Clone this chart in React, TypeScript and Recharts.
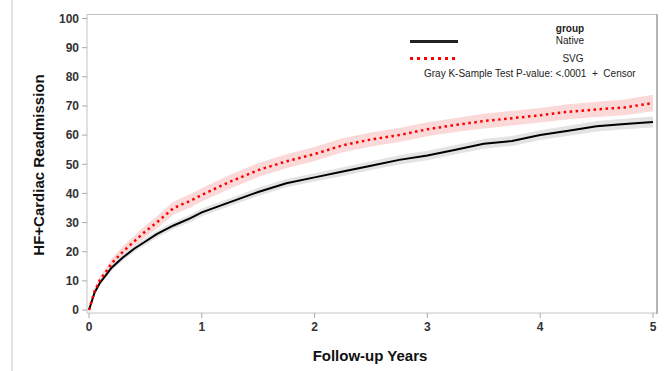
import React from "react";
import {
  ComposedChart,
  Area,
  Line,
  XAxis,
  YAxis,
} from "recharts";

// follow-up time (years)
const years = [0, 0.05, 0.1, 0.15, 0.2, 0.3, 0.4, 0.5, 0.6, 0.75, 0.9, 1, 1.25, 1.5, 1.75, 2, 2.25, 2.5, 2.75, 3, 3.25, 3.5, 3.75, 4, 4.25, 4.5, 4.75, 5];

const native = [0, 6, 9.5, 12, 14.5, 18, 21, 23.5, 26, 29, 31.5, 33.5, 37, 40.5, 43.5, 45.5, 47.5, 49.5, 51.5, 53, 55, 57, 58, 60, 61.5, 63, 63.8, 64.5];
const nativeLo = [0, 5.3, 8.7, 11.1, 13.5, 17, 19.9, 22.4, 24.8, 27.8, 30.2, 32.2, 35.7, 39.1, 42.1, 44.1, 46, 48, 49.9, 51.4, 53.4, 55.3, 56.3, 58.3, 59.8, 61.2, 62, 62.6];
const nativeHi = [0, 6.7, 10.3, 12.9, 15.5, 19, 22.1, 24.6, 27.2, 30.2, 32.8, 34.8, 38.3, 41.9, 44.9, 46.9, 49, 51, 53.1, 54.6, 56.6, 58.7, 59.7, 61.7, 63.2, 64.8, 65.6, 66.4];

const svg = [0, 6.5, 10.5, 13, 16, 20, 23.5, 27, 30, 35, 37.5, 39.5, 44, 48, 51, 53.5, 56.5, 58.5, 60, 62, 63.5, 64.8, 65.8, 66.8, 68, 68.8, 69.5, 71];
const svgLo = [0, 5.5, 9.2, 11.6, 14.4, 18.2, 21.6, 25, 27.9, 32.8, 35.2, 37.2, 41.6, 45.6, 48.6, 51.1, 54.1, 56.1, 57.6, 59.6, 61.1, 62.3, 63.3, 64.3, 65.4, 66.2, 66.8, 68.2];
const svgHi = [0, 7.5, 11.8, 14.4, 17.6, 21.8, 25.4, 29, 32.1, 37.2, 39.8, 41.8, 46.4, 50.4, 53.4, 55.9, 58.9, 60.9, 62.4, 64.4, 65.9, 67.3, 68.3, 69.3, 70.6, 71.4, 72.2, 73.8];

const xTicks = [0, 1, 2, 3, 4, 5];
const yTicks = [0, 10, 20, 30, 40, 50, 60, 70, 80, 90, 100];

const data = years.map((t, i) => ({
  t,
  native: native[i],
  nativeBand: [nativeLo[i], nativeHi[i]],
  svg: svg[i],
  svgBand: [svgLo[i], svgHi[i]],
}));

const FONT = "'Liberation Sans', Arial, sans-serif";
const tickStyle = { fill: "#333", fontSize: 12, fontWeight: "bold", fontFamily: FONT };

const abs = (style: React.CSSProperties): React.CSSProperties => ({
  position: "absolute",
  fontFamily: FONT,
  color: "#222",
  whiteSpace: "nowrap",
  ...style,
});

const bar = (left: number, top: number, width: number, height: number, color: string) => (
  <div style={{ position: "absolute", left, top, width, height, background: color }} />
);

export default function App() {
  return (
    <div style={{ position: "absolute", left: 0, top: 0, width: 672, height: 371, background: "#fff" }}>
      <ComposedChart
        width={672}
        height={371}
        data={data}
        margin={{ top: 14, right: 14, bottom: 28, left: 0 }}
      >
        <XAxis
          dataKey="t"
          type="number"
          domain={[0, 5]}
          ticks={xTicks}
          padding={{ left: 2, right: 5 }}
          height={30}
          stroke="#c4c4c4"
          tickLine={{ stroke: "#aaa" }}
          tickSize={5}
          tickMargin={4}
          tick={tickStyle}
        />
        <YAxis
          type="number"
          domain={[0, 100]}
          ticks={yTicks}
          padding={{ top: 4.5, bottom: 3 }}
          width={87}
          stroke="#c4c4c4"
          tickLine={{ stroke: "#aaa" }}
          tickSize={5}
          tickMargin={3}
          tick={tickStyle}
          interval={0}
        />
        <Area
          dataKey="svgBand"
          stroke="none"
          fill="#fcd9d9"
          fillOpacity={1}
          isAnimationActive={false}
        />
        <Area
          dataKey="nativeBand"
          stroke="none"
          fill="#e3e3e3"
          fillOpacity={1}
          isAnimationActive={false}
        />
        <Line
          dataKey="native"
          stroke="#000"
          strokeWidth={2}
          dot={false}
          type="linear"
          isAnimationActive={false}
        />
        <Line
          dataKey="svg"
          stroke="#ff0000"
          strokeWidth={2.5}
          strokeDasharray="2.5 3.5"
          dot={false}
          type="linear"
          isAnimationActive={false}
        />
      </ComposedChart>

      {/* page border line on the left, plot frame top + right */}
      {bar(11, 0, 2, 371, "#e2e2e2")}
      {bar(87, 14, 571, 1, "#c4c4c4")}
      {bar(656, 14, 2, 300, "#b4b4b4")}

      {/* axis titles */}
      <div
        style={abs({
          left: 38,
          top: 165,
          fontSize: 15,
          fontWeight: "bold",
          color: "#111",
          transform: "translate(-50%, -50%) rotate(-90deg)",
        })}
      >
        HF+Cardiac Readmission
      </div>
      <div style={abs({ left: 370, top: 355, fontSize: 15, fontWeight: "bold", color: "#111", transform: "translate(-50%, -50%)" })}>
        Follow-up Years
      </div>

      {/* legend */}
      <div style={abs({ left: 570, top: 28, fontSize: 10, fontWeight: "bold", transform: "translate(-50%, -50%)" })}>group</div>
      <div style={abs({ left: 570, top: 40, fontSize: 10, transform: "translate(-50%, -50%)" })}>Native</div>
      <div style={abs({ left: 573, top: 58, fontSize: 10, transform: "translate(-50%, -50%)" })}>SVG</div>
      {bar(410, 40, 48, 2.5, "#222")}
      <div
        style={{
          position: "absolute",
          left: 410,
          top: 57,
          width: 48,
          height: 2.5,
          backgroundImage: "repeating-linear-gradient(to right, #ff0000 0 3px, transparent 3px 7px)",
        }}
      />
      <div style={abs({ left: 424, top: 73, fontSize: 10, transform: "translateY(-50%)" })}>
        Gray K-Sample Test P-value: &lt;.0001&nbsp;&nbsp;+&nbsp;&nbsp;Censor
      </div>
    </div>
  );
}
